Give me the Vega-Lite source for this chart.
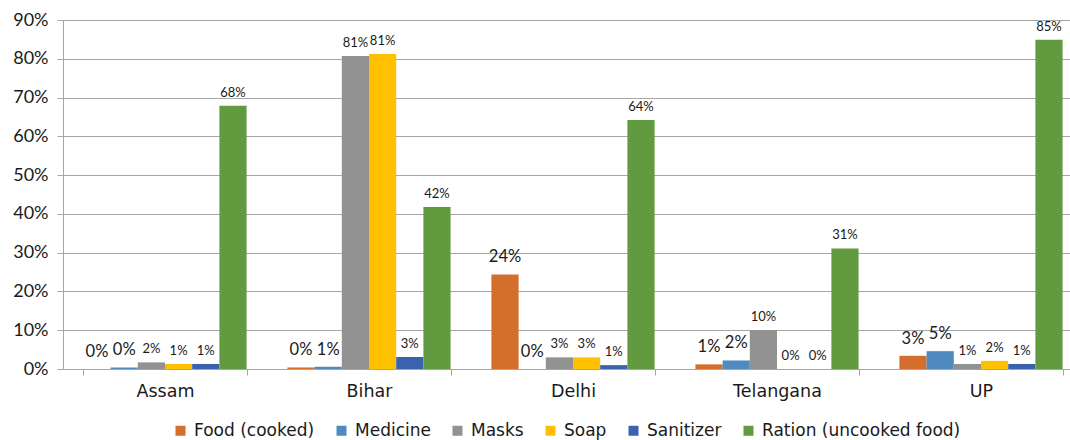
{
  "$schema": "https://vega.github.io/schema/vega-lite/v6.json",
  "autosize": {"type": "none"},
  "width": 1007,
  "height": 349,
  "padding": {"left": 63, "top": 20, "right": 0, "bottom": 71},
  "background": "white",
  "config": {
    "font": "Lato",
    "view": {"stroke": null},
    "axis": {"labelFont": "Lato", "labelColor": "#1a1a1a", "labelFontSize": 18}
  },
  "data": {
    "values": [
      {"state": "Assam", "item": "Food (cooked)", "value": 0.0},
      {"state": "Assam", "item": "Medicine", "value": 0.004},
      {"state": "Assam", "item": "Masks", "value": 0.017},
      {"state": "Assam", "item": "Soap", "value": 0.013},
      {"state": "Assam", "item": "Sanitizer", "value": 0.013},
      {"state": "Assam", "item": "Ration (uncooked food)", "value": 0.679},
      {"state": "Bihar", "item": "Food (cooked)", "value": 0.004},
      {"state": "Bihar", "item": "Medicine", "value": 0.0055},
      {"state": "Bihar", "item": "Masks", "value": 0.807},
      {"state": "Bihar", "item": "Soap", "value": 0.812},
      {"state": "Bihar", "item": "Sanitizer", "value": 0.031},
      {"state": "Bihar", "item": "Ration (uncooked food)", "value": 0.418},
      {"state": "Delhi", "item": "Food (cooked)", "value": 0.244},
      {"state": "Delhi", "item": "Medicine", "value": 0.0},
      {"state": "Delhi", "item": "Masks", "value": 0.03},
      {"state": "Delhi", "item": "Soap", "value": 0.03},
      {"state": "Delhi", "item": "Sanitizer", "value": 0.01},
      {"state": "Delhi", "item": "Ration (uncooked food)", "value": 0.642},
      {"state": "Telangana", "item": "Food (cooked)", "value": 0.012},
      {"state": "Telangana", "item": "Medicine", "value": 0.022},
      {"state": "Telangana", "item": "Masks", "value": 0.1},
      {"state": "Telangana", "item": "Soap", "value": 0.0},
      {"state": "Telangana", "item": "Sanitizer", "value": 0.0},
      {"state": "Telangana", "item": "Ration (uncooked food)", "value": 0.311},
      {"state": "UP", "item": "Food (cooked)", "value": 0.034},
      {"state": "UP", "item": "Medicine", "value": 0.046},
      {"state": "UP", "item": "Masks", "value": 0.013},
      {"state": "UP", "item": "Soap", "value": 0.021},
      {"state": "UP", "item": "Sanitizer", "value": 0.013},
      {"state": "UP", "item": "Ration (uncooked food)", "value": 0.849}
    ]
  },
  "encoding": {
    "x": {
      "field": "state", "type": "nominal", "sort": null,
      "scale": {"range": [0, 1020], "paddingInner": 0.2, "paddingOuter": 0.1},
      "axis": {
        "title": null, "labelAngle": 0, "tickBand": "extent", "ticks": true,
        "tickSize": 6, "tickColor": "#a6a6a6", "domainColor": "#a6a6a6",
        "labelPadding": 7, "grid": false, "labelFont": "DejaVu Sans", "labelFontSize": 17.5
      }
    },
    "xOffset": {
      "field": "item", "type": "nominal",
      "sort": ["Food (cooked)", "Medicine", "Masks", "Soap", "Sanitizer", "Ration (uncooked food)"],
      "scale": {"paddingInner": 0, "paddingOuter": 0}
    },
    "y": {
      "field": "value", "type": "quantitative",
      "scale": {"domain": [0, 0.9], "nice": false},
      "axis": {
        "title": null, "format": ".0%", "values": [0, 0.1, 0.2, 0.3, 0.4, 0.5, 0.6, 0.7, 0.8, 0.9],
        "tickSize": 6, "tickColor": "#a6a6a6", "domainColor": "#a6a6a6",
        "gridColor": "#a6a6a6", "gridWidth": 1, "labelPadding": 9
      }
    }
  },
  "layer": [
    {
      "mark": {"type": "bar"},
      "encoding": {
        "color": {
          "field": "item", "type": "nominal",
          "sort": ["Food (cooked)", "Medicine", "Masks", "Soap", "Sanitizer", "Ration (uncooked food)"],
          "scale": {
            "domain": ["Food (cooked)", "Medicine", "Masks", "Soap", "Sanitizer", "Ration (uncooked food)"],
            "range": ["#d46e2c", "#4f8ac0", "#929292", "#ffc000", "#3b62ae", "#629a3f"]
          },
          "legend": {
            "title": null, "orient": "none", "legendX": 109, "legendY": 402, "direction": "horizontal",
            "padding": 0,
            "symbolType": "square", "symbolSize": 100, "symbolStrokeWidth": 0,
            "labelFontSize": 17, "labelFont": "DejaVu Sans", "labelColor": "#1a1a1a",
            "labelOffset": 5, "columnPadding": 18, "labelLimit": 400
          }
        }
      }
    },
    {
      "transform": [{"filter": "datum.item === 'Food (cooked)' || datum.item === 'Medicine'"}],
      "mark": {"type": "text", "fontSize": 16.5, "dy": -12, "baseline": "alphabetic", "color": "#1a1a1a"},
      "encoding": {"text": {"field": "value", "type": "quantitative", "format": ".0%"}}
    },
    {
      "transform": [{"filter": "datum.item !== 'Food (cooked)' && datum.item !== 'Medicine'"}],
      "mark": {"type": "text", "fontSize": 13, "dy": -9, "baseline": "alphabetic", "color": "#1a1a1a"},
      "encoding": {"text": {"field": "value", "type": "quantitative", "format": ".0%"}}
    }
  ]
}
